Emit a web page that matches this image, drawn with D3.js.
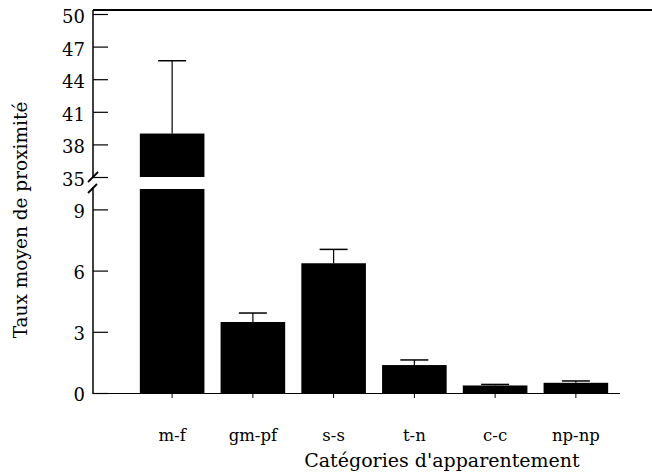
<!DOCTYPE html>
<html><head><meta charset="utf-8">
<script src="https://cdn.jsdelivr.net/npm/d3@7"></script>
<style>body{margin:0;background:#fff}svg{display:block}</style>
</head><body><svg id="c" width="652" height="473"></svg>
<script>
const categories = ["m-f","gm-pf","s-s","t-n","c-c","np-np"];
const means = [39.0, 3.48, 6.36, 1.37, 0.37, 0.50];
const errorTops = [45.7, 3.92, 7.04, 1.62, 0.42, 0.59];
const upperTicks = [35,38,41,44,47,50];
const lowerTicks = [0,3,6,9];
const yTitle = "Taux moyen de proximité";
const xTitle = "Catégories d'apparentement";

const FONT = "'DejaVu Serif', 'Noto Serif', Tinos, Times, serif";
const svg = d3.select("#c");
const axX = 93;
const x = d3.scaleBand().domain(categories).range([axX, 655]).paddingInner(0.2).paddingOuter(0.58);
const yLow = d3.scaleLinear().domain([0,10]).range([393,189]);
const yUp = d3.scaleLinear().domain([35,50]).range([177,14]);
const breakVal = 10;

function yOf(v){ return v > breakVal ? yUp(v) : yLow(v); }

const g = svg.append("g");
categories.forEach((c,i)=>{
  const v = means[i];
  const x0 = x(c), w = x.bandwidth();
  if (v > breakVal) {
    g.append("rect").attr("x",x0).attr("width",w).attr("y",yLow(breakVal)).attr("height",yLow(0)-yLow(breakVal)).attr("fill","#000");
    g.append("rect").attr("x",x0).attr("width",w).attr("y",yUp(v)).attr("height",yUp(35)-yUp(v)).attr("fill","#000");
  } else {
    g.append("rect").attr("x",x0).attr("width",w).attr("y",yLow(v)).attr("height",yLow(0)-yLow(v)).attr("fill","#000");
  }
  const cx = x0 + w/2;
  const et = yOf(errorTops[i]);
  g.append("line").attr("x1",cx).attr("x2",cx).attr("y1",yOf(v)).attr("y2",et).attr("stroke","#000").attr("stroke-width",1.2);
  g.append("line").attr("x1",cx-14).attr("x2",cx+14).attr("y1",et).attr("y2",et).attr("stroke","#000").attr("stroke-width",1.5);
});

svg.append("line").attr("x1",axX).attr("x2",620).attr("y1",yLow(0)+0.5).attr("y2",yLow(0)+0.5).attr("stroke","#000").attr("stroke-width",1);
svg.append("line").attr("x1",axX).attr("x2",652).attr("y1",10).attr("y2",10).attr("stroke","#000").attr("stroke-width",2);

const upAxis = d3.axisRight(yUp).tickValues(upperTicks).tickSize(15).tickFormat("");
const lowAxis = d3.axisRight(yLow).tickValues(lowerTicks).tickSize(15).tickFormat("");
[upAxis, lowAxis].forEach(a=>{
  const ga = svg.append("g").attr("transform",`translate(${axX},0)`).call(a);
  ga.select(".domain").remove();
  ga.selectAll("line").attr("stroke","#000").attr("stroke-width",1.2);
});
svg.append("line").attr("x1",axX).attr("x2",axX).attr("y1",10).attr("y2",yUp(35)).attr("stroke","#000").attr("stroke-width",1.5);
svg.append("line").attr("x1",axX).attr("x2",axX).attr("y1",187).attr("y2",yLow(0)+1).attr("stroke","#000").attr("stroke-width",1.5);

function label(sel){ return sel.attr("font-family",FONT).attr("fill","#000"); }

label(svg.append("g").selectAll("text").data(upperTicks).join("text"))
  .attr("x",85).attr("y",d=>yUp(d)).attr("dy","0.5em").attr("text-anchor","end")
  .attr("font-size",18).text(d=>d);
label(svg.append("g").selectAll("text").data(lowerTicks).join("text"))
  .attr("x",85).attr("y",d=>yLow(d)).attr("dy","0.45em").attr("text-anchor","end")
  .attr("font-size",18).text(d=>d);

svg.append("line").attr("x1",88).attr("y1",182).attr("x2",98).attr("y2",172).attr("stroke","#000").attr("stroke-width",1.8);
svg.append("line").attr("x1",88).attr("y1",193).attr("x2",97).attr("y2",184).attr("stroke","#000").attr("stroke-width",1.8);

const xa = svg.append("g").attr("transform",`translate(0,${yLow(0)})`).call(d3.axisBottom(x).tickSize(5).tickFormat(""));
xa.select(".domain").remove();
xa.selectAll("line").attr("stroke","#000");
label(svg.append("g").selectAll("text").data(categories).join("text"))
  .attr("x",d=>x(d)+x.bandwidth()/2).attr("y",441).attr("text-anchor","middle")
  .attr("font-size",16.5).text(d=>d);

label(svg.append("text")).attr("x",442).attr("y",467).attr("text-anchor","middle").attr("font-size",19).text(xTitle);
label(svg.append("text")).attr("transform","translate(27,220) rotate(-90)").attr("text-anchor","middle").attr("font-size",18.5).text(yTitle);
</script></body></html>
